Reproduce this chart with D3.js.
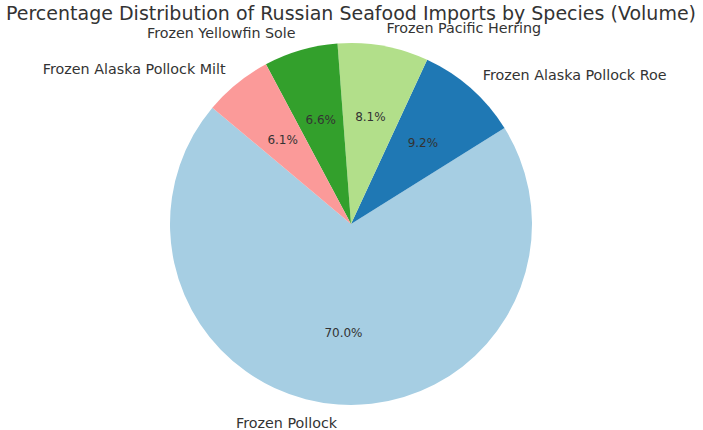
<!DOCTYPE html>
<html><head><meta charset="utf-8">
<script src="https://cdn.jsdelivr.net/npm/d3@7"></script>
<style>body{margin:0;background:#fff}svg{display:block}text{font-family:"DejaVu Sans",sans-serif;fill:#333}</style>
</head><body><svg id="c" width="703" height="430"></svg>
<script>
const categories = ["Frozen Pollock","Frozen Alaska Pollock Roe","Frozen Pacific Herring","Frozen Yellowfin Sole","Frozen Alaska Pollock Milt"];
const values = [70.0, 9.2, 8.1, 6.6, 6.1];
const colors = ["#a6cee3","#1f78b4","#b2df8a","#33a02c","#fb9a99"];
const title = "Percentage Distribution of Russian Seafood Imports by Species (Volume)";

const W=703,H=430,cx=351,cy=224,r=181;
const svg=d3.select("#c");
svg.append("text").attr("x",cx).attr("y",20).attr("text-anchor","middle").attr("font-size",19)
  .attr("textLength",690).attr("lengthAdjust","spacingAndGlyphs").text(title);
const deg=Math.PI/180;
// matplotlib startangle 140, counterclockwise
const pie=d3.pie().sort(null).value(d=>d).startAngle((90-140)*deg).endAngle((90-140-360)*deg);
const arcs=pie(values);
const arc=d3.arc().innerRadius(0).outerRadius(r);
const g=svg.append("g").attr("transform",`translate(${cx},${cy})`);
g.selectAll("path").data(arcs).join("path").attr("d",arc).attr("fill",(d,i)=>colors[i]);
const fmt=d3.format(".1f");
arcs.forEach((a,i)=>{
  const m=(a.startAngle+a.endAngle)/2;
  const x=Math.sin(m), y=-Math.cos(m);
  g.append("text").attr("x",1.1*r*x).attr("y",1.1*r*y).attr("dy","0.35em")
   .attr("text-anchor",x>0?"start":"end").attr("font-size",14.3).text(categories[i]);
  g.append("text").attr("x",0.6*r*x).attr("y",0.6*r*y).attr("dy","0.35em")
   .attr("text-anchor","middle").attr("font-size",12).text(fmt(values[i])+"%");
});
</script></body></html>
